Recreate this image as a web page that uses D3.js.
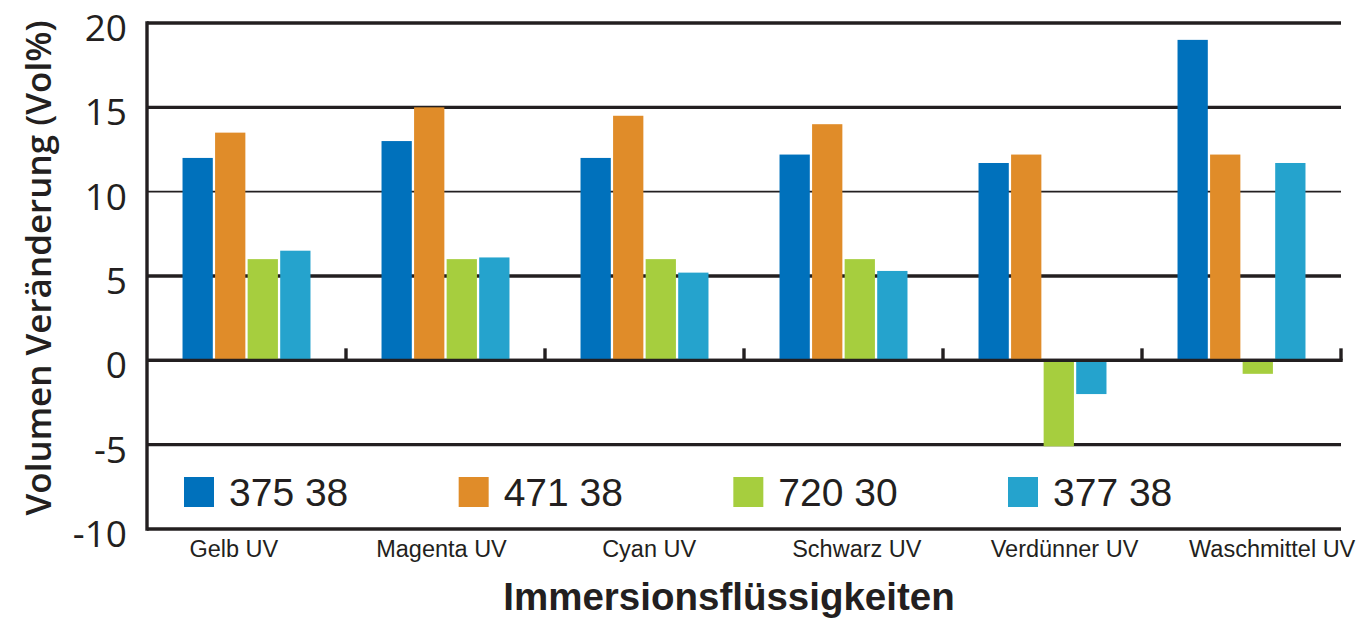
<!DOCTYPE html>
<html><head><meta charset="utf-8">
<script src="https://cdn.jsdelivr.net/npm/d3@7"></script>
<style>body{margin:0;background:#fff}svg{display:block}</style>
</head><body>
<svg id="c" width="1359" height="619"></svg>
<script>
const categories = ["Gelb UV","Magenta UV","Cyan UV","Schwarz UV","Verdünner UV","Waschmittel UV"];
const seriesNames = ["375 38","471 38","720 30","377 38"];
const s37538 = [12.0, 13.0, 12.0, 12.2, 11.7, 19.0];
const s47138 = [13.5, 15.0, 14.5, 14.0, 12.2, 12.2];
const s72030 = [6.0, 6.0, 6.0, 6.0, -5.1, -0.8];
const s37738 = [6.5, 6.1, 5.2, 5.3, -2.0, 11.7];
const yTicks = [20, 15, 10, 5, 0, -5, -10];
const colors = ["#0071bc","#e08c29","#a6ce3e","#25a3cd"];
const series = [s37538, s47138, s72030, s37738];

const svg = d3.select("#c");
const L = 147, R = 1341, T = 23, B = 529;
const y = d3.scaleLinear().domain([-10, 20]).range([B, T]);
const x0 = d3.scaleBand().domain(categories).range([L, R]).paddingInner(0.357).paddingOuter(0.1785);
const x1 = d3.scaleBand().domain(d3.range(4)).range([0, x0.bandwidth()]).paddingInner(0.07);
const xl = d3.scaleBand().domain(categories).range([130, 1376]);
const ink = "#231f20";

// gridlines
svg.append("g").selectAll("line").data(yTicks).join("line")
  .attr("x1", L).attr("x2", R).attr("y1", d => y(d)).attr("y2", d => y(d))
  .attr("stroke", ink).attr("stroke-width", d => d === 10 ? 1.6 : 3.4);

// bars
const g = svg.append("g");
categories.forEach((c, i) => {
  series.forEach((s, j) => {
    const v = s[i];
    g.append("rect")
      .attr("x", x0(c) + x1(j)).attr("width", x1.bandwidth())
      .attr("y", y(Math.max(0, v))).attr("height", Math.abs(y(v) - y(0)))
      .attr("fill", colors[j]);
  });
});

// zero axis ticks at category boundaries
svg.append("g").selectAll("line").data(categories).join("line")
  .attr("x1", d => x0(d) - x0.paddingOuter() * x0.step() + x0.step())
  .attr("x2", d => x0(d) - x0.paddingOuter() * x0.step() + x0.step())
  .attr("y1", y(0)).attr("y2", y(0) - 12)
  .attr("stroke", ink).attr("stroke-width", 3.4);
svg.append("line").attr("x1", L).attr("x2", R + 1.7).attr("y1", y(0)).attr("y2", y(0))
  .attr("stroke", ink).attr("stroke-width", 3.4);

// y axis line
svg.append("line").attr("x1", L).attr("x2", L).attr("y1", T - 1.7).attr("y2", B + 1.7)
  .attr("stroke", ink).attr("stroke-width", 3.4);

// y tick labels
svg.append("g").selectAll("text").data(yTicks).join("text")
  .attr("x", 127).attr("y", d => y(d) + 18)
  .attr("text-anchor", "end")
  .attr("font-family", "'Open Sans', sans-serif").attr("font-size", 37)
  .attr("fill", ink).text(d => d);

// y title
svg.append("text")
  .attr("transform", `translate(51,268) rotate(-90)`)
  .attr("text-anchor", "middle")
  .attr("font-family", "'Open Sans', sans-serif").attr("font-weight", 600).attr("font-size", 35)
  .attr("fill", ink).text("Volumen Veränderung (Vol%)");

// category labels
svg.append("g").selectAll("text").data(categories).join("text")
  .attr("x", d => xl(d) + xl.bandwidth() / 2).attr("y", 557)
  .attr("text-anchor", "middle")
  .attr("font-family", "'Liberation Sans', Arial, sans-serif").attr("font-size", 23.5)
  .attr("fill", ink).text(d => d);

// x title
svg.append("text").attr("x", 729).attr("y", 610).attr("text-anchor", "middle")
  .attr("font-family", "'Liberation Sans', Arial, sans-serif").attr("font-weight", "bold").attr("font-size", 38.5)
  .attr("fill", ink).text("Immersionsflüssigkeiten");

// legend
const lx = d3.scalePoint().domain(seriesNames).range([184, 1008]);
const lg = svg.append("g").selectAll("g").data(seriesNames).join("g")
  .attr("transform", d => `translate(${lx(d)},477)`);
lg.append("rect").attr("width", 30).attr("height", 30).attr("fill", (d, i) => colors[i]);
lg.append("text").attr("x", 45).attr("y", 29)
  .attr("font-family", "'Liberation Sans', Arial, sans-serif").attr("font-size", 39)
  .attr("fill", ink).text(d => d);
</script>
</body></html>
